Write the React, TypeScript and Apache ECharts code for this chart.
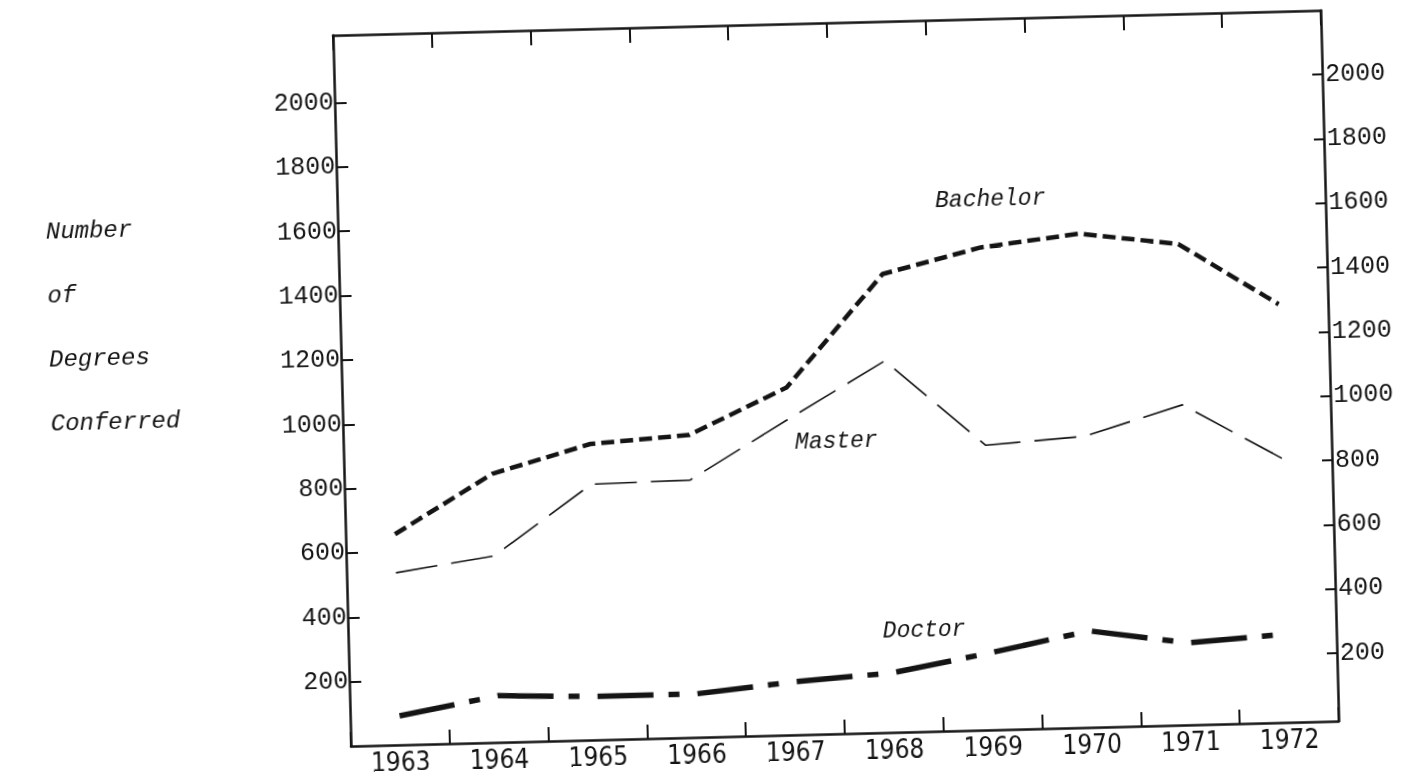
import React, { useEffect, useRef } from "react";
import * as echarts from "echarts";

const years = ["1963", "1964", "1965", "1966", "1967", "1968", "1969", "1970", "1971", "1972"];
const bachelor = [655, 835, 920, 940, 1080, 1425, 1500, 1535, 1495, 1300];
const master = [535, 580, 795, 800, 980, 1155, 885, 905, 995, 820];
const doctor = [90, 145, 135, 135, 165, 185, 240, 300, 255, 275];
const leftTicks = [200, 400, 600, 800, 1000, 1200, 1400, 1600, 1800, 2000];
const rightTicks = [200, 400, 600, 800, 1000, 1200, 1400, 1600, 1800, 2000];
const titleLines = ["Number", "of", "Degrees", "Conferred"];
const seriesNames = ["Bachelor", "Master", "Doctor"];

const INK = "#141414";
const MONO = '"Liberation Mono", "DejaVu Sans Mono", monospace';
const NARROW = '"Liberation Sans Narrow", "DejaVu Sans Condensed", "Liberation Sans", sans-serif';

export default function App() {
  const ref = useRef<HTMLDivElement | null>(null);

  useEffect(() => {
    if (!ref.current) return;
    const chart = echarts.init(ref.current, undefined, { renderer: "svg" });
    const frameLine = { show: true, onZero: false, lineStyle: { color: INK, width: 2.5 } };
    const tickStyle = { color: INK, width: 2 };
    const italic = (size: number) => `italic ${size}px ${MONO}`;
    const plain = (v: number) => String(v);

    const option: any = {
      animation: false,
      backgroundColor: "#ffffff",
      grid: { left: 342, right: 83, top: 26, bottom: 41, containLabel: false },
      xAxis: [
        {
          type: "category",
          data: years,
          position: "bottom",
          boundaryGap: true,
          axisLine: frameLine,
          axisTick: { show: true, inside: true, length: 14, lineStyle: tickStyle },
          axisLabel: { color: INK, fontFamily: NARROW, fontSize: 26, margin: 4 },
          splitLine: { show: false },
        },
        {
          type: "category",
          data: years,
          position: "top",
          boundaryGap: true,
          axisLine: frameLine,
          axisTick: { show: true, inside: true, length: 15, lineStyle: tickStyle },
          axisLabel: { show: false },
          splitLine: { show: false },
        },
      ],
      yAxis: [
        {
          type: "value",
          position: "left",
          min: 0,
          max: 2210,
          axisLine: frameLine,
          axisTick: { show: true, inside: true, length: 12, lineStyle: tickStyle, customValues: leftTicks },
          axisLabel: { color: INK, fontFamily: MONO, fontSize: 25, margin: 1, customValues: leftTicks, formatter: plain },
          splitLine: { show: false },
        },
        {
          type: "value",
          position: "right",
          min: -11,
          max: 2199,
          axisLine: frameLine,
          axisTick: { show: true, inside: true, length: 10, lineStyle: tickStyle, customValues: rightTicks },
          axisLabel: { color: INK, fontFamily: MONO, fontSize: 25, margin: 3, customValues: rightTicks, formatter: plain },
          splitLine: { show: false },
        },
      ],
      series: [
        {
          name: seriesNames[0],
          type: "line",
          data: bachelor,
          symbol: "none",
          lineStyle: { color: INK, width: 4.5, type: [13, 6] },
        },
        {
          name: seriesNames[1],
          type: "line",
          data: master,
          symbol: "none",
          lineStyle: { color: INK, width: 1.6, type: [42, 14] },
        },
        {
          name: seriesNames[2],
          type: "line",
          data: doctor,
          symbol: "none",
          lineStyle: { color: INK, width: 5.5, type: [56, 15, 11, 18] },
        },
      ],
      graphic: [
        ...titleLines.map((t, i) => ({
          type: "text",
          x: 50,
          y: 215 + i * 64,
          style: { text: t, font: italic(24), fill: INK, align: "left", verticalAlign: "middle" },
        })),
        {
          type: "text",
          x: 995,
          y: 207,
          style: { text: seriesNames[0], font: italic(23), fill: INK, align: "center", verticalAlign: "middle" },
        },
        {
          type: "text",
          x: 835,
          y: 445,
          style: { text: seriesNames[1], font: italic(23), fill: INK, align: "center", verticalAlign: "middle" },
        },
        {
          type: "text",
          x: 918,
          y: 636,
          style: { text: seriesNames[2], font: italic(23), fill: INK, align: "center", verticalAlign: "middle" },
        },
      ],
    };
    chart.setOption(option);
    return () => chart.dispose();
  }, []);

  return (
    <div
      ref={ref}
      style={{
        position: "fixed",
        left: 0,
        top: 0,
        width: 1413,
        height: 778,
        background: "#ffffff",
        transform: "rotate(-1.45deg)",
        transformOrigin: "50% 50%",
      }}
    />
  );
}
